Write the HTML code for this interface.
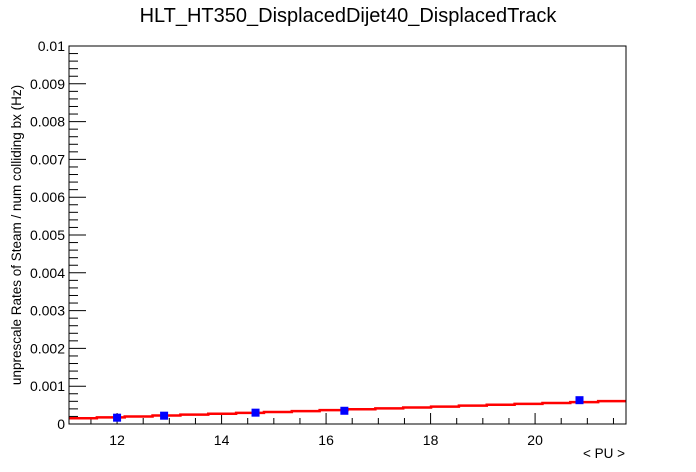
<!DOCTYPE html>
<html><head><meta charset="utf-8"><style>
body{margin:0;background:#fff;}
svg{display:block;font-family:"Liberation Sans",Arial,sans-serif;}
</style></head><body>
<svg id="chart" width="696" height="472">
<text x="348" y="22" text-anchor="middle" font-size="20">HLT_HT350_DisplacedDijet40_DisplacedTrack</text>
<text transform="translate(21,235) rotate(-90)" text-anchor="middle" font-size="13.5">unprescale Rates of Steam / num colliding bx (Hz)</text>
<text x="625" y="458" text-anchor="end" font-size="13.5">&lt; PU &gt;</text>
<g id="axes"></g>
<g id="fit"></g>
<g id="points"></g>
<rect x="69" y="46" width="557" height="378" fill="none" stroke="#000" stroke-width="1"/>
</svg>
<script>
const xTicks=[12,14,16,18,20];
const yTicks=[0,0.001,0.002,0.003,0.004,0.005,0.006,0.007,0.008,0.009,0.01];
const yTickLabels=["0","0.001","0.002","0.003","0.004","0.005","0.006","0.007","0.008","0.009","0.01"];
const puValues=[12.0,12.9,14.65,16.35,20.85];
const rateValues=[0.000167,0.00022,0.0003,0.00035,0.00063];
const rateErrors=[0.00004,0.00004,0.00004,0.00004,0.00008];
const fitIntercept=-0.000354;
const fitSlope=0.0000446;
const X0=69,X1=626,Y0=424,Y1=46,xmin=11.08,xmax=21.74,ymin=0,ymax=0.01;
const sx=v=>X0+(v-xmin)/(xmax-xmin)*(X1-X0);
const sy=v=>Y0-(v-ymin)/(ymax-ymin)*(Y0-Y1);
const NS="http://www.w3.org/2000/svg";
function mk(tag,attrs,parent){const e=document.createElementNS(NS,tag);for(const k in attrs)e.setAttribute(k,attrs[k]);parent.appendChild(e);return e;}
const axes=document.getElementById('axes');
for(let i=0;i<yTicks.length;i++){
  const y=sy(yTicks[i]);
  const t=mk('line',{x1:X0,x2:X0+17,y1:y,y2:y,stroke:'#000'},axes);
  
  
  const l=mk('text',{x:X0-4,y:y+5,'text-anchor':'end','font-size':'14'},axes);
  l.textContent=yTickLabels[i];
  
  
  if(i<yTicks.length-1){
    for(let j=1;j<5;j++){
      const ym=sy(yTicks[i]+(yTicks[i+1]-yTicks[i])*j/5);
      const m=mk('line',{x1:X0,x2:X0+9,y1:ym,y2:ym,stroke:'#000'},axes);
      
      
    }
  }
}
for(let v=11.5;v<xmax;v+=0.5){
  const x=sx(v);
  const major=xTicks.includes(v);
  const t=mk('line',{x1:x,x2:x,y1:Y0,y2:Y0-(major?11:6),stroke:'#000'},axes);
  
  
}
xTicks.forEach(v=>{
  const l=mk('text',{x:sx(v),y:Y0+21,'text-anchor':'middle','font-size':'14'},axes);
  l.textContent=String(v);
  
  
});
const fit=document.getElementById('fit');
const nb=20;let d='';
for(let i=0;i<nb;i++){
  const a=xmin+(xmax-xmin)*i/nb,b=xmin+(xmax-xmin)*(i+1)/nb,c=(a+b)/2;
  const y=sy(fitIntercept+fitSlope*c);
  d+=(i==0?'M':'L')+sx(a)+','+y+'L'+sx(b)+','+y;
}
const fp=mk('path',{d:d,fill:'none',stroke:'#ff0000','stroke-width':'2.5'},fit);


const pts=document.getElementById('points');
for(let i=0;i<puValues.length;i++){
  const x=sx(puValues[i]),y=sy(rateValues[i]);
  const e1=sy(rateValues[i]+rateErrors[i]),e2=sy(rateValues[i]-rateErrors[i]);
  const eb=mk('path',{d:`M${x},${e1}L${x},${e2}M${x-3},${e1}L${x+3},${e1}M${x-3},${e2}L${x+3},${e2}`,stroke:'#000','stroke-width':'1'},pts);
  
  
  const r=mk('rect',{x:x-4,y:y-4,width:8,height:8,fill:'#0000ff'},pts);
  
  
}
</script>
</body></html>
